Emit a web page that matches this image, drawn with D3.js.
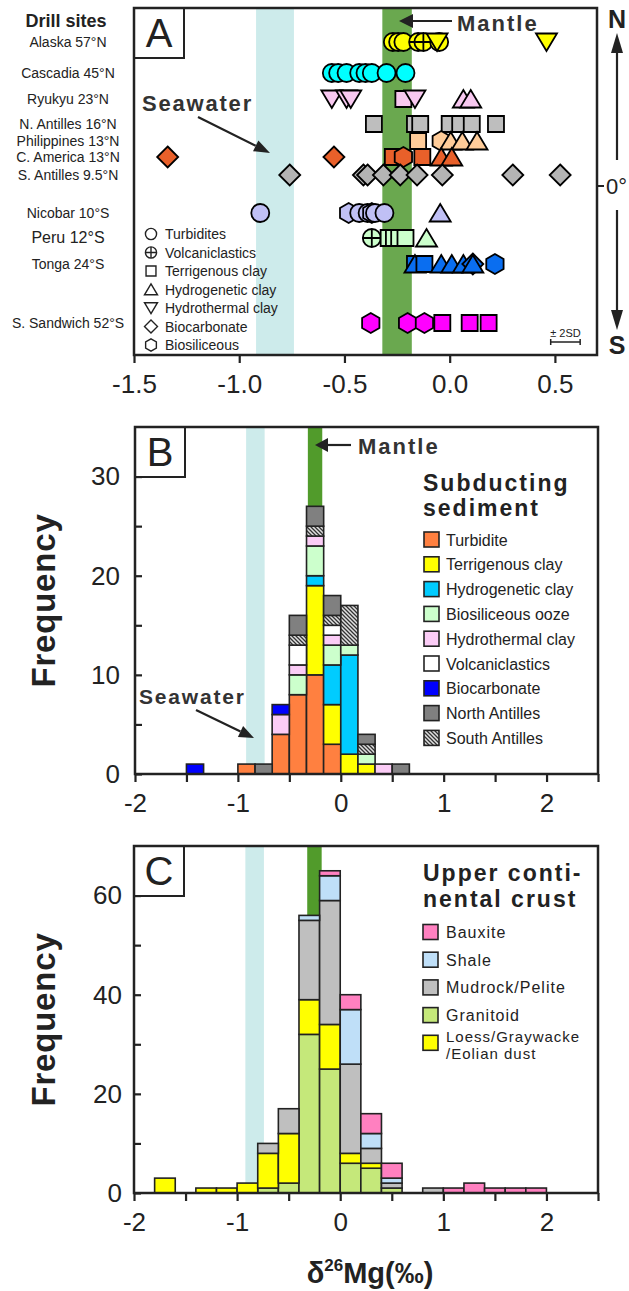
<!DOCTYPE html>
<html>
<head>
<meta charset="utf-8">
<title>Mg isotopes of subducting sediment</title>
<script src="https://cdn.jsdelivr.net/npm/d3@7"></script>
<style>
  body { margin: 0; background: #fff; }
  text { font-family: "Liberation Sans", Arial, sans-serif; }
</style>
</head>
<body>
<svg width="629" height="1291"></svg>
<script>
// ---------------- data ----------------
const sites = ['Alaska 57°N', 'Cascadia 45°N', 'Ryukyu 23°N', 'N. Antilles 16°N', 'Philippines 13°N',
  'C. America 13°N', 'S. Antilles 9.5°N', 'Nicobar 10°S', 'Peru 12°S', 'Tonga 24°S', 'S. Sandwich 52°S'];
const siteColors = ['#ffff00', '#00ffff', '#f8c8f0', '#bebebe', '#ffcc99', '#e8602a', '#b4b4b4',
  '#c0c0f5', '#ccffcc', '#0a6ef0', '#ff00ff'];

// sediment codes: T turbidite, V volcaniclastic, C terrigenous clay, G hydrogenetic clay,
// H hydrothermal clay, B biocarbonate, S biosiliceous
const alaska = [['T', -0.27], ['T', -0.245], ['T', -0.22], ['V', -0.15], ['V', -0.125], ['T', -0.05], ['H', -0.06], ['H', 0.46]];
const cascadia = [['T', -0.56], ['T', -0.53], ['T', -0.49], ['T', -0.43], ['T', -0.40], ['T', -0.37], ['T', -0.30], ['T', -0.21]];
const ryukyu = [['H', -0.56], ['H', -0.49], ['H', -0.47], ['C', -0.22], ['H', -0.165], ['G', 0.065], ['G', 0.10]];
const nAntilles = [['C', -0.36], ['C', -0.165], ['C', -0.14], ['C', 0.0], ['C', 0.05], ['C', 0.105], ['C', 0.22]];
const philippines = [['C', -0.15], ['S', -0.04], ['G', 0.005], ['G', 0.06], ['G', 0.13]];
const cAmerica = [['B', -1.34], ['B', -0.55], ['C', -0.27], ['S', -0.22], ['C', -0.13], ['G', -0.04], ['G', 0.01]];
const sAntilles = [['B', -0.76], ['B', -0.41], ['B', -0.39], ['B', -0.315], ['B', -0.235], ['B', -0.155], ['B', -0.035], ['B', 0.30], ['B', 0.525]];
const nicobar = [['T', -0.90], ['S', -0.48], ['T', -0.43], ['T', -0.39], ['S', -0.37], ['T', -0.355], ['T', -0.31], ['G', -0.045]];
const peru = [['V', -0.37], ['C', -0.29], ['C', -0.265], ['C', -0.24], ['C', -0.21], ['G', -0.11]];
const tonga = [['C', -0.165], ['G', -0.165], ['C', -0.12], ['G', -0.04], ['G', 0.01], ['G', 0.065], ['B', 0.11], ['G', 0.11], ['S', 0.215]];
const sSandwich = [['S', -0.375], ['S', -0.20], ['S', -0.12], ['C', -0.035], ['C', 0.095], ['C', 0.185]];
const sitePoints = [alaska, cascadia, ryukyu, nAntilles, philippines, cAmerica, sAntilles, nicobar, peru, tonga, sSandwich];

const sedCodes = ['T', 'V', 'C', 'G', 'H', 'B', 'S'];
const sedNames = ['Turbidites', 'Volcaniclastics', 'Terrigenous clay', 'Hydrogenetic clay', 'Hydrothermal clay', 'Biocarbonate', 'Biosiliceous'];

const seawater = [-0.92, -0.74];
const mantle = [-0.32, -0.18];
const twoSD = 0.07;

const ticksA = [-1.5, -1.0, -0.5, 0.0, 0.5];
const ticksHist = [-2, -1.5, -1, -0.5, 0, 0.5, 1, 1.5, 2, 2.5];

// panel B: subducting sediment histogram (bins 1/6 wide)
const subBinStarts = [-1.5, -1.0, -0.833, -0.667, -0.5, -0.333, -0.167, 0, 0.167, 0.333, 0.5];
const subBinWidth = 0.1667;
const turbidite       = [0, 1, 0, 4, 8, 10, 3, 0, 0, 0, 0];
const terrigenous     = [0, 0, 0, 0, 0, 9, 4, 2, 1, 0, 0];
const hydrogenetic    = [0, 0, 0, 0, 0, 1, 4, 10, 0, 0, 0];
const biosiliceous    = [0, 0, 0, 0, 2, 3, 2, 1, 1, 0, 0];
const hydrothermal    = [0, 0, 0, 2, 1, 1, 1, 0, 0, 1, 0];
const volcaniclastics = [0, 0, 0, 0, 2, 0, 1, 0, 0, 0, 0];
const biocarbonate    = [1, 0, 0, 1, 0, 0, 0, 0, 0, 0, 0];
const southAntilles   = [0, 0, 0, 0, 1, 1, 1, 4, 1, 0, 0];
const northAntilles   = [0, 0, 1, 0, 2, 2, 2, 0, 1, 0, 1];
const subKeys = ['turbidite', 'terrigenous', 'hydrogenetic', 'biosiliceous', 'hydrothermal', 'volcaniclastics', 'biocarbonate', 'southAntilles', 'northAntilles'];
const subValues = {turbidite, terrigenous, hydrogenetic, biosiliceous, hydrothermal, volcaniclastics, biocarbonate, southAntilles, northAntilles};
const subLegendKeys = ['turbidite', 'terrigenous', 'hydrogenetic', 'biosiliceous', 'hydrothermal', 'volcaniclastics', 'biocarbonate', 'northAntilles', 'southAntilles'];
const subLabels = {turbidite: 'Turbidite', terrigenous: 'Terrigenous clay', hydrogenetic: 'Hydrogenetic clay',
  biosiliceous: 'Biosiliceous ooze', hydrothermal: 'Hydrothermal clay', volcaniclastics: 'Volcaniclastics',
  biocarbonate: 'Biocarbonate', northAntilles: 'North Antilles', southAntilles: 'South Antilles'};
const subColors = {turbidite: '#ff8040', terrigenous: '#ffff00', hydrogenetic: '#00ccff', biosiliceous: '#ccffcc',
  hydrothermal: '#fbccf6', volcaniclastics: '#ffffff', biocarbonate: '#0000ff', northAntilles: '#808080',
  southAntilles: 'url(#hatch)'};

// panel C: upper continental crust histogram (bins 0.2 wide)
const crustBinStarts = [-1.8, -1.4, -1.2, -1.0, -0.8, -0.6, -0.4, -0.2, 0, 0.2, 0.4, 0.8, 1.0, 1.2, 1.4, 1.6, 1.8];
const crustBinWidth = 0.2;
const granitoid = [0, 0, 0, 0, 1, 2, 32, 25, 6, 5, 1, 0, 0, 0, 0, 0, 0];
const loess     = [3, 1, 1, 2, 7, 10, 7, 9, 2, 1, 0, 0, 0, 0, 0, 0, 0];
const mudrock   = [0, 0, 0, 0, 2, 5, 16, 25, 18, 3, 1, 1, 0, 0, 0, 0, 0];
const shale     = [0, 0, 0, 0, 0, 0, 1, 5, 11, 3, 1, 0, 0, 0, 0, 0, 0];
const bauxite   = [0, 0, 0, 0, 0, 0, 0, 1, 3, 4, 3, 0, 1, 2, 1, 1, 1];
const crustKeys = ['granitoid', 'loess', 'mudrock', 'shale', 'bauxite'];
const crustValues = {granitoid, loess, mudrock, shale, bauxite};
const crustLegendKeys = ['bauxite', 'shale', 'mudrock', 'granitoid', 'loess'];
const crustLabels = {bauxite: ['Bauxite'], shale: ['Shale'], mudrock: ['Mudrock/Pelite'], granitoid: ['Granitoid'],
  loess: ['Loess/Graywacke', '/Eolian dust']};
const crustColors = {bauxite: '#ff80c0', shale: '#bfdff8', mudrock: '#bfbfbf', granitoid: '#c5e87a', loess: '#ffff00'};

// ---------------- layout ----------------
const svg = d3.select('svg');
svg.append('rect').attr('width', 629).attr('height', 1291).attr('fill', 'white');
const defs = svg.append('defs');
const hatch = defs.append('pattern').attr('id', 'hatch').attr('patternUnits', 'userSpaceOnUse')
  .attr('width', 4).attr('height', 4);
hatch.append('rect').attr('width', 4).attr('height', 4).attr('fill', '#e0e0e0');
hatch.append('path').attr('d', 'M-1,-1L5,5M-1,3L1,5M3,-1L5,1').attr('stroke', '#333').attr('stroke-width', 1.3);

const ink = '#222';
const seaColor = '#cdebeb';

function arrow(g, x1, y1, x2, y2, len, half, width) {
  const a = Math.atan2(y2 - y1, x2 - x1);
  const bx = x2 - len * Math.cos(a), by = y2 - len * Math.sin(a);
  g.append('line').attr('x1', x1).attr('y1', y1).attr('x2', bx).attr('y2', by)
    .attr('stroke', ink).attr('stroke-width', width);
  const px = -Math.sin(a) * half, py = Math.cos(a) * half;
  g.append('path').attr('d', `M${x2},${y2}L${bx + px},${by + py}L${bx - px},${by - py}Z`).attr('fill', ink);
}

function hexPath(r) {
  return d3.range(6).map(i => {
    const t = -Math.PI / 2 + i * Math.PI / 3;
    return (i ? 'L' : 'M') + (r * Math.cos(t)).toFixed(2) + ',' + (r * Math.sin(t)).toFixed(2);
  }).join('') + 'Z';
}

function marker(g, code, fill, k) {
  if (code === 'T' || code === 'V') {
    g.append('circle').attr('r', 9 * k).attr('fill', fill);
    if (code === 'V') g.append('path').attr('d', `M${-9 * k},0H${9 * k}M0,${-9 * k}V${9 * k}`).attr('fill', 'none');
    return;
  }
  let d;
  if (code === 'C') d = `M${-8 * k},${-8 * k}H${8 * k}V${8 * k}H${-8 * k}Z`;
  if (code === 'G') d = `M0,${-9 * k}L${10.5 * k},${8.5 * k}H${-10.5 * k}Z`;
  if (code === 'H') d = `M${-10.5 * k},${-8.5 * k}H${10.5 * k}L0,${9 * k}Z`;
  if (code === 'B') d = `M0,${-10.5 * k}L${10.5 * k},0L0,${10.5 * k}L${-10.5 * k},0Z`;
  if (code === 'S') d = hexPath(10 * k);
  g.append('path').attr('d', d).attr('fill', fill);
}

function labelBox(x, y, letter) {
  svg.append('rect').attr('x', x).attr('y', y).attr('width', 50).attr('height', 50)
    .attr('fill', 'white').attr('stroke', ink).attr('stroke-width', 2);
  svg.append('text').attr('x', x + 25).attr('y', y + 39).attr('text-anchor', 'middle')
    .attr('font-size', 40).attr('fill', ink).text(letter);
}

// ================= Panel A =================
const A = {left: 134, right: 597, top: 8, bottom: 355};
const xA = d3.scaleLinear().domain([-1.5, 0.7]).range([A.left, A.right]);
const rowGaps = [0, 31, 26, 25, 17, 16, 18, 38, 25, 26, 59];
const rowCum = d3.cumsum(rowGaps);
const yA = d3.scaleLinear().domain([0, rowCum[rowCum.length - 1]]).range([42, 323]);

const gA = svg.append('g');
gA.append('rect').attr('x', xA(seawater[0])).attr('y', A.top).attr('width', xA(seawater[1]) - xA(seawater[0]))
  .attr('height', A.bottom - A.top).attr('fill', seaColor);
gA.append('rect').attr('x', xA(mantle[0])).attr('y', A.top).attr('width', xA(mantle[1]) - xA(mantle[0]))
  .attr('height', A.bottom - A.top).attr('fill', '#6aa84f');

// site labels
svg.append('text').attr('x', 66).attr('y', 27).attr('text-anchor', 'middle').attr('font-size', 18)
  .attr('font-weight', 'bold').attr('fill', ink).text('Drill sites');
sites.forEach((s, i) => {
  svg.append('text').attr('x', 68).attr('y', yA(rowCum[i]) + 5).attr('text-anchor', 'middle')
    .attr('font-size', s.startsWith('Peru') ? 16 : 14).attr('fill', ink).text(s);
});

// points
sitePoints.forEach((pts, i) => {
  pts.forEach(([code, v]) => {
    const g = gA.append('g').attr('transform', `translate(${xA(v)},${yA(rowCum[i])})`)
      .attr('stroke', 'black').attr('stroke-width', 1.8);
    marker(g, code, siteColors[i], 1);
  });
});

// symbol legend
sedCodes.forEach((c, i) => {
  const y = 234 + i * 18.5;
  const g = gA.append('g').attr('transform', `translate(151,${y})`).attr('stroke', ink).attr('stroke-width', 1.4);
  marker(g, c, 'white', 0.62);
  gA.append('text').attr('x', 165).attr('y', y + 5).attr('font-size', 14).attr('fill', ink).text(sedNames[i]);
});

// seawater / mantle annotations
gA.append('text').attr('x', 142).attr('y', 111).attr('font-size', 22).attr('font-weight', 'bold')
  .attr('letter-spacing', 1.8).attr('fill', '#333').text('Seawater');
arrow(gA, 198, 117, 270, 153, 16, 6, 2.2);
arrow(gA, 452, 21, 399, 21, 14, 7, 2.2);
gA.append('text').attr('x', 457).attr('y', 31).attr('font-size', 22).attr('font-weight', 'bold')
  .attr('letter-spacing', 2).attr('fill', '#333').text('Mantle');

// 2SD bar
const sdC = 0.55;
gA.append('text').attr('x', xA(sdC)).attr('y', 337).attr('text-anchor', 'middle').attr('font-size', 11)
  .attr('fill', ink).text('± 2SD');
gA.append('path').attr('d', `M${xA(sdC - twoSD)},339V345M${xA(sdC - twoSD)},342H${xA(sdC + twoSD)}M${xA(sdC + twoSD)},339V345`)
  .attr('stroke', ink).attr('stroke-width', 1.5).attr('fill', 'none');

labelBox(A.left, A.top, 'A');

// axis A
const axA = svg.append('g').attr('transform', `translate(0,${A.bottom})`)
  .call(d3.axisBottom(xA).tickValues(ticksA).tickFormat(d => d.toFixed(1)).tickSize(8).tickPadding(12));
axA.select('.domain').remove();
axA.selectAll('line').attr('stroke', ink).attr('stroke-width', 2.2);
axA.selectAll('text').attr('font-size', 26).attr('fill', ink).attr('font-family', '"Liberation Sans", Arial, sans-serif');

svg.append('rect').attr('x', A.left).attr('y', A.top).attr('width', A.right - A.left).attr('height', A.bottom - A.top)
  .attr('fill', 'none').attr('stroke', ink).attr('stroke-width', 2.5);

// latitude indicator
const latY = 186;
svg.append('line').attr('x1', A.right).attr('x2', A.right + 7).attr('y1', latY).attr('y2', latY).attr('stroke', ink).attr('stroke-width', 2);
svg.append('text').attr('x', 606).attr('y', latY + 8).attr('font-size', 22).attr('fill', ink).text('0°');
svg.append('text').attr('x', 617).attr('y', 28).attr('text-anchor', 'middle').attr('font-size', 25)
  .attr('font-weight', 'bold').attr('fill', ink).text('N');
svg.append('text').attr('x', 617).attr('y', 354).attr('text-anchor', 'middle').attr('font-size', 25)
  .attr('font-weight', 'bold').attr('fill', ink).text('S');
arrow(svg, 617, 160, 617, 33, 20, 6, 2.2);
arrow(svg, 617, 210, 617, 330, 20, 6, 2.2);

// ================= histogram helper =================
function histogram(P, binStarts, binW, keys, values, colors, yMax, yTicks, yLabelEvery) {
  const x = d3.scaleLinear().domain([-2, 2.5]).range([P.left, P.right]);
  const y = d3.scaleLinear().domain([0, yMax]).range([P.bottom, P.top]);
  const g = svg.append('g');
  g.append('rect').attr('x', x(seawater[0])).attr('y', P.top).attr('width', x(seawater[1]) - x(seawater[0]))
    .attr('height', P.bottom - P.top).attr('fill', seaColor);
  g.append('rect').attr('x', x(mantle[0])).attr('y', P.top).attr('width', x(mantle[1]) - x(mantle[0]))
    .attr('height', P.bottom - P.top).attr('fill', '#519b2b');

  const table = binStarts.map((b, i) => {
    const r = {x0: b};
    keys.forEach(k => { r[k] = values[k][i]; });
    return r;
  });
  const stack = d3.stack().keys(keys)(table);
  stack.forEach(layer => {
    g.selectAll(null).data(layer.filter(d => d[1] > d[0])).enter().append('rect')
      .attr('x', d => x(d.data.x0))
      .attr('width', d => x(d.data.x0 + binW) - x(d.data.x0))
      .attr('y', d => y(d[1]))
      .attr('height', d => y(d[0]) - y(d[1]))
      .attr('fill', colors[layer.key])
      .attr('stroke', ink).attr('stroke-width', 1.6);
  });

  const ax = svg.append('g').attr('transform', `translate(0,${P.bottom})`)
    .call(d3.axisBottom(x).tickValues(ticksHist).tickFormat(d => Number.isInteger(d) ? String(d) : '')
      .tickSize(8).tickPadding(P.xPad));
  ax.select('.domain').remove();
  ax.selectAll('line').attr('stroke', ink).attr('stroke-width', 2.2);
  ax.selectAll('text').attr('font-size', 26).attr('fill', ink).attr('font-family', '"Liberation Sans", Arial, sans-serif');

  const ay = svg.append('g').attr('transform', `translate(${P.left},0)`)
    .call(d3.axisLeft(y).tickValues(yTicks).tickFormat(d => d % yLabelEvery === 0 ? String(d) : '')
      .tickSize(-7).tickPadding(P.yPad));
  ay.select('.domain').remove();
  ay.selectAll('line').attr('stroke', ink).attr('stroke-width', 2.2);
  ay.selectAll('text').attr('font-size', 26).attr('fill', ink).attr('font-family', '"Liberation Sans", Arial, sans-serif');

  svg.append('text').attr('transform', `translate(55,${(P.top + P.bottom) / 2}) rotate(-90)`)
    .attr('text-anchor', 'middle').attr('font-size', 33).attr('font-weight', 'bold')
    .attr('letter-spacing', 0.8).attr('fill', ink).text('Frequency');
  return {g, x, y};
}

// ================= Panel B =================
const B = {left: 135, right: 598, top: 427, bottom: 774, xPad: 12, yPad: 15};
const hB = histogram(B, subBinStarts, subBinWidth, subKeys, subValues, subColors, 35, [0, 5, 10, 15, 20, 25, 30], 10);
arrow(hB.g, 351, 445, 315, 445, 13, 7, 2.2);
hB.g.append('text').attr('x', 358).attr('y', 454).attr('font-size', 22).attr('font-weight', 'bold')
  .attr('letter-spacing', 2).attr('fill', '#333').text('Mantle');
hB.g.append('text').attr('x', 139).attr('y', 704).attr('font-size', 21).attr('font-weight', 'bold')
  .attr('letter-spacing', 1.8).attr('fill', '#333').text('Seawater');
arrow(hB.g, 196, 710, 254, 738, 15, 6, 2.2);

hB.g.append('text').attr('x', 423).attr('y', 491).attr('font-size', 23).attr('font-weight', 'bold')
  .attr('letter-spacing', 2).attr('fill', ink).text('Subducting');
hB.g.append('text').attr('x', 423).attr('y', 516).attr('font-size', 23).attr('font-weight', 'bold')
  .attr('letter-spacing', 2).attr('fill', ink).text('sediment');
subLegendKeys.forEach((k, i) => {
  const yy = 539.5 + i * 24.8;
  hB.g.append('rect').attr('x', 424).attr('y', yy - 7.5).attr('width', 15).attr('height', 15)
    .attr('fill', subColors[k]).attr('stroke', ink).attr('stroke-width', 1.6);
  hB.g.append('text').attr('x', 446).attr('y', yy + 6).attr('font-size', 16).attr('fill', ink).text(subLabels[k]);
});
labelBox(B.left, B.top, 'B');
svg.append('rect').attr('x', B.left).attr('y', B.top).attr('width', B.right - B.left).attr('height', B.bottom - B.top)
  .attr('fill', 'none').attr('stroke', ink).attr('stroke-width', 2.5);

// ================= Panel C =================
const C = {left: 134, right: 598, top: 846, bottom: 1193, xPad: 12, yPad: 12};
const hC = histogram(C, crustBinStarts, crustBinWidth, crustKeys, crustValues, crustColors, 70, [0, 10, 20, 30, 40, 50, 60], 20);
hC.g.append('text').attr('x', 423).attr('y', 881).attr('font-size', 23).attr('font-weight', 'bold')
  .attr('letter-spacing', 2).attr('fill', ink).text('Upper conti-');
hC.g.append('text').attr('x', 423).attr('y', 907).attr('font-size', 23).attr('font-weight', 'bold')
  .attr('letter-spacing', 2).attr('fill', ink).text('nental crust');
crustLegendKeys.forEach((k, i) => {
  const yy = 932 + i * 27.7;
  hC.g.append('rect').attr('x', 423).attr('y', yy - 7.5).attr('width', 15).attr('height', 15)
    .attr('fill', crustColors[k]).attr('stroke', ink).attr('stroke-width', 1.6);
  const lines = crustLabels[k];
  lines.forEach((t, j) => {
    hC.g.append('text').attr('x', 446).attr('y', yy + 6 + (lines.length > 1 ? (j * 17 - 7) : 0))
      .attr('font-size', lines.length > 1 ? 15 : 16).attr('letter-spacing', 1).attr('fill', ink).text(t);
  });
});
labelBox(C.left, C.top, 'C');
svg.append('rect').attr('x', C.left).attr('y', C.top).attr('width', C.right - C.left).attr('height', C.bottom - C.top)
  .attr('fill', 'none').attr('stroke', ink).attr('stroke-width', 2.5);

// x title
const xt = svg.append('text').attr('x', 370).attr('y', 1283).attr('text-anchor', 'middle')
  .attr('font-size', 29).attr('font-weight', 'bold').attr('fill', ink);
xt.append('tspan').text('δ');
xt.append('tspan').attr('font-size', 17).attr('dy', -12).text('26');
xt.append('tspan').attr('dy', 12).text('Mg');
xt.append('tspan').text('(‰)');
</script>
</body>
</html>
